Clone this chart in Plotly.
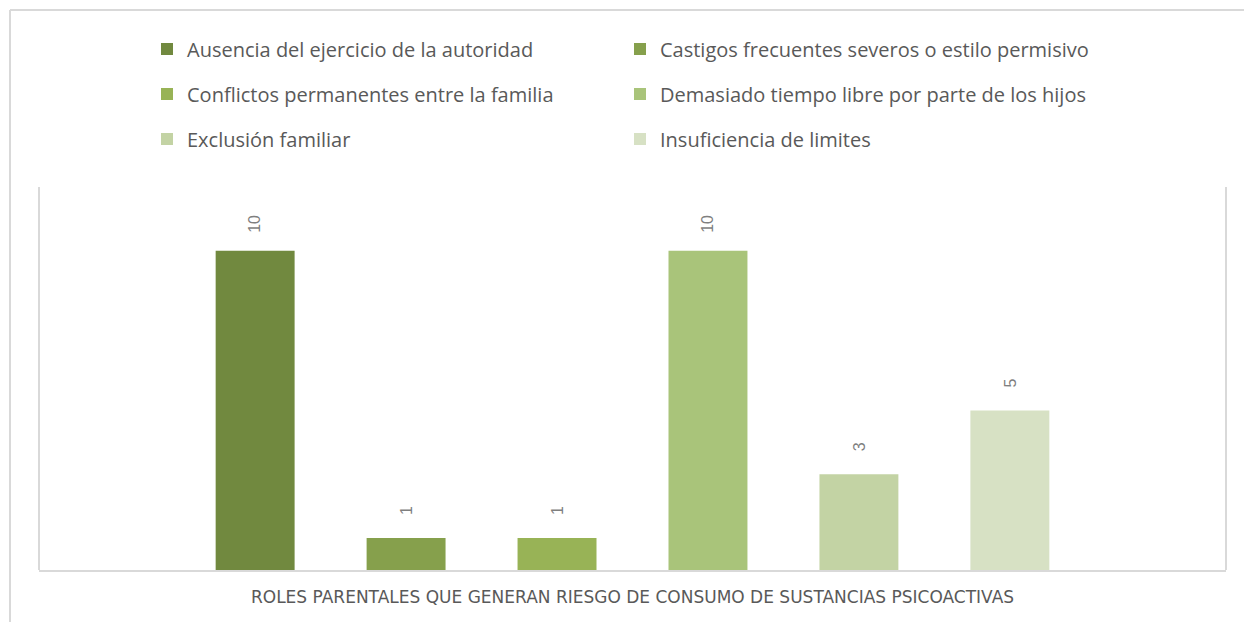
import plotly.graph_objects as go

category = ["ROLES PARENTALES QUE GENERAN RIESGO DE CONSUMO DE SUSTANCIAS PSICOACTIVAS"]
series_names = [
    "Ausencia del ejercicio de la autoridad",
    "Castigos frecuentes severos o estilo permisivo",
    "Conflictos permanentes entre la familia",
    "Demasiado tiempo libre por parte de los hijos",
    "Exclusión familiar",
    "Insuficiencia de limites",
]
values = [10, 1, 1, 10, 3, 5]
colors = ["#71893F", "#86A04C", "#98B356", "#A9C47A", "#C3D3A4", "#D7E1C4"]

OFF = 8  # browser body margin
W, H = 1252, 622
pl, pr, pt, pb = 39, 1226, 187, 570  # plot area in page pixels
L = pl - OFF
T = pt - OFF
pw, ph = pr - pl, pb - pt
R = W - L - pw
B = H - T - ph

def px_x(x):
    return (x - pl) / pw

def px_y(y):
    return (pb - y) / ph

legend_names = ["legend", "legend2", "legend3"]
fig = go.Figure()
n_series = len(values)
slot_px = 151
for i, (n, v, c) in enumerate(zip(series_names, values, colors)):
    fig.add_trace(go.Bar(
        x=category, y=[v], name=n, marker_color=c, marker_line_width=0,
        legend=legend_names[i // 2],
    ))
    fig.add_annotation(
        x=category[0], y=v, xref="x", yref="y", text=str(v), showarrow=False,
        textangle=-90, xshift=(i - (n_series - 1) / 2) * slot_px, yshift=27,
        font=dict(size=16, color="#7F7F7F", family="Liberation Sans"),
    )

rows_y = [49, 94, 139]
leg_common = dict(orientation="h", xanchor="left", yanchor="middle",
                  font=dict(size=20, color="#595959", family="Open Sans"),
                  entrywidth=428, entrywidthmode="pixels", itemwidth=30,
                  bgcolor="rgba(0,0,0,0)", traceorder="normal")
layout_legends = {}
for k, ln in enumerate(legend_names):
    layout_legends[ln] = dict(x=px_x(147), y=px_y(rows_y[k]), **leg_common)

grey = "#D9D9D9"
fig.update_layout(
    width=W, height=H,
    margin=dict(l=L, r=R, t=T, b=B, autoexpand=False),
    paper_bgcolor="white", plot_bgcolor="white",
    barmode="group", bargap=0.237, bargroupgap=0.477,
    showlegend=True,
    xaxis=dict(showline=True, linecolor=grey, linewidth=2, ticks="",
               ticklabelstandoff=11,
               tickfont=dict(size=17, color="#595959", family="DejaVu Sans"),
               fixedrange=True),
    yaxis=dict(range=[0, 12], visible=False, fixedrange=True),
    shapes=[
        dict(type="line", xref="paper", yref="paper", x0=0, x1=0, y0=0, y1=1,
             line=dict(color=grey, width=2)),
        dict(type="line", xref="paper", yref="paper", x0=1, x1=1, y0=0, y1=1,
             line=dict(color=grey, width=2)),
        dict(type="line", xref="paper", yref="paper", x0=px_x(10), x1=px_x(1270),
             y0=px_y(10), y1=px_y(10), line=dict(color=grey, width=2)),
        dict(type="line", xref="paper", yref="paper", x0=px_x(10), x1=px_x(10),
             y0=px_y(10), y1=px_y(640), line=dict(color=grey, width=2)),
    ],
    **layout_legends,
)

fig.write_html("out.html")
